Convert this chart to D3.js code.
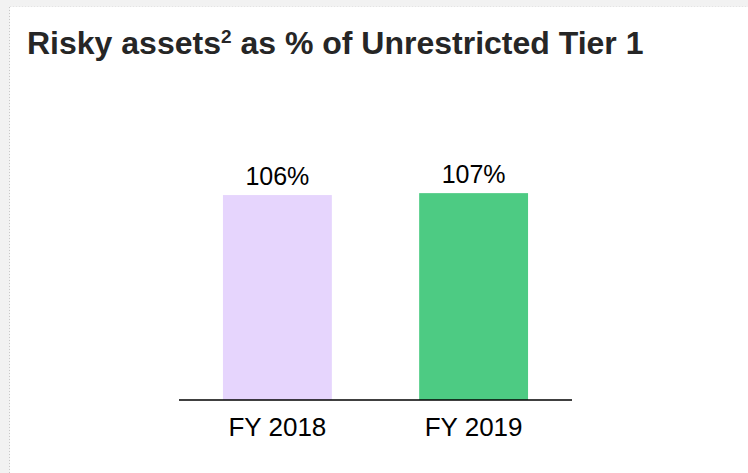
<!DOCTYPE html>
<html>
<head>
<meta charset="utf-8">
<script src="https://cdn.jsdelivr.net/npm/d3@7"></script>
<style>
    body { margin: 0; background: #f2f2f2; }
    svg { display: block; font-family: "Liberation Sans", Arial, sans-serif; }
</style>
</head>
<body>
<svg width="748" height="473"></svg>
<script>
// Chart data
var categories = ['FY 2018', 'FY 2019'];
var values = [106, 107];
var valueLabels = ['106%', '107%'];
var barColors = ['#e6d5fd', '#4dcb83'];

var svg = d3.select('svg');

var svgWidth = +svg.attr('width');
var svgHeight = +svg.attr('height');

// White panel with dotted left edge
svg.append('rect')
    .attr('x', 10)
    .attr('y', 7)
    .attr('width', svgWidth - 10)
    .attr('height', svgHeight - 7)
    .attr('fill', '#ffffff');

svg.append('line')
    .attr('x1', 9.5).attr('x2', 9.5)
    .attr('y1', 7).attr('y2', svgHeight)
    .attr('stroke', '#c8c8c8')
    .attr('stroke-dasharray', '1,2');

svg.append('line')
    .attr('x1', 10).attr('x2', svgWidth)
    .attr('y1', 6.5).attr('y2', 6.5)
    .attr('stroke', '#e4e4e4')
    .attr('stroke-dasharray', '1,2');

// Title with superscript
var title = svg.append('text')
    .attr('x', 27)
    .attr('y', 54)
    .attr('fill', '#262626')
    .style('font-weight', 'bold')
    .style('font-size', '32px');
title.append('tspan').text('Risky assets');
title.append('tspan')
    .text('2')
    .attr('dy', -11)
    .style('font-size', '19px');
title.append('tspan')
    .text(' as % of Unrestricted Tier 1')
    .attr('dy', 11);

// Scales
var axisLeft = 179, axisRight = 572, baseY = 400;

var xScale = d3.scaleBand()
    .domain(categories)
    .range([axisLeft, axisRight])
    .paddingInner(0.445)
    .paddingOuter(0.224);

var yScale = d3.scaleLinear()
    .domain([0, 120])
    .range([baseY, baseY - 232]);

var chartG = svg.append('g');

// Bars
chartG.selectAll('.bar')
    .data(values)
    .enter()
    .append('rect')
    .attr('class', 'bar')
    .attr('x', function (d, i) { return xScale(categories[i]); })
    .attr('y', function (d) { return yScale(d); })
    .attr('width', xScale.bandwidth())
    .attr('height', function (d) { return baseY - yScale(d); })
    .attr('fill', function (d, i) { return barColors[i]; });

// Value labels
chartG.selectAll('.value-label')
    .data(values)
    .enter()
    .append('text')
    .attr('class', 'value-label')
    .attr('x', function (d, i) { return xScale(categories[i]) + xScale.bandwidth() / 2; })
    .attr('y', function (d) { return yScale(d) - 10; })
    .attr('text-anchor', 'middle')
    .attr('fill', '#000')
    .style('font-size', '25px')
    .text(function (d, i) { return valueLabels[i]; });

// x axis: baseline and category labels
var xAxis = d3.axisBottom(xScale).tickSize(0).tickPadding(18);
var axisG = chartG.append('g')
    .attr('transform', 'translate(0,' + baseY + ')')
    .call(xAxis);

axisG.select('.domain')
    .attr('d', 'M' + axisLeft + ',0H' + axisRight)
    .attr('stroke', '#000')
    .attr('stroke-width', 1.3);

axisG.selectAll('.tick text')
    .attr('fill', '#000')
    .style('font-size', '26px')
    .style('font-family', '"Liberation Sans", Arial, sans-serif');
</script>
</body>
</html>
